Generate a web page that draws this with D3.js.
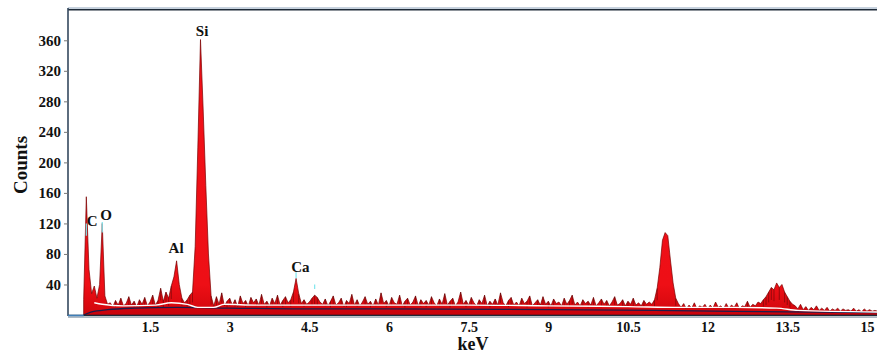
<!DOCTYPE html>
<html>
<head>
<meta charset="utf-8">
<script src="https://cdn.jsdelivr.net/npm/d3@7"></script>
<style>
  html, body { margin: 0; padding: 0; background: #fff; }
  svg { display: block; }
  text { font-family: "Liberation Serif", "Times New Roman", serif; font-weight: bold; fill: #111; }
</style>
</head>
<body>
<svg id="chart" width="877" height="355"></svg>
<script>
// ---- data ----
const channelStart = 0.25;   // keV of first channel
const channelWidth = 0.05;   // keV per channel
const counts = [
  20,155,60,28,38,22,40,120,25,14,
  16,11,19,13,22,12,15,24,13,18,11,20,14,23,12,17,26,13,19,
  35,18,30,22,38,50,71,40,22,16,
  20,26,
  30,90,220,361,270,170,80,25,12,
  24,14,29,12,18,22,13,20,11,25,15,19,12,23,16,21,13,27,14,18,12,22,15,26,13,19,24,16,
  20,30,48,28,15,
  20,14,
  17,22,26,23,17,
  14,21,12,18,25,13,16,22,11,19,
  15,27,13,20,12,17,24,14,18,12,
  21,13,29,15,19,12,23,16,14,26,
  12,18,22,13,17,25,12,20,15,19,
  13,24,16,12,21,14,28,13,18,22,
  12,17,30,14,19,13,23,16,12,20,
  15,26,12,18,14,21,13,29,16,12,
  19,23,13,17,12,22,15,18,25,12,
  16,20,13,24,14,18,12,21,15,17,
  12,22,14,19,26,13,17,12,20,15,
  18,13,23,12,16,21,14,19,12,17,
  24,13,15,20,12,18,14,22,13,16,
  12,19,14,17,
  14,20,35,62,98,108,104,72,42,22,15,
  10,15,8,13,9,16,8,12,10,14,
  8,13,9,17,10,12,8,15,9,13,
  10,16,8,12,11,18,10,14,12,17,
  15,20,24,30,36,33,42,36,40,30,24,18,14,
  12,8,14,7,11,6,10,7,12,6,
  9,6,10,5,8,6,9,5,8,6,
  7,5,9,5,7,4,8,5,7,5,6,5
];
// fitted background (white line)
const bgEnergy = [0.45, 0.6, 1.0, 1.6, 1.9, 2.2, 2.4, 2.7, 2.9, 3.5, 4.5, 6, 7.5, 9, 10.5, 11.5, 12.5, 13.3, 13.7, 15.2];
const bgCounts = [16, 14, 12, 13, 16, 14, 10, 10, 14, 13, 13, 13, 13, 12, 11, 10, 10, 9, 6, 4];
// continuum (dark line)
const contEnergy = [0.25, 0.4, 0.7, 1.2, 2, 3, 4.5, 6, 9, 11, 13.5, 15.2];
const contCounts = [0, 4, 7, 9, 10, 9, 8, 8, 7, 6, 4, 3];
// element labels
const elements = ["C", "O", "Al", "Si", "Ca"];
const elemEnergy = [0.41, 0.67, 1.99, 2.48, 4.33];
const elemCounts = [117, 125, 81, 366, 57];
const yTicks = [40, 80, 120, 160, 200, 240, 280, 320, 360];
const xTicks = [1.5, 3, 4.5, 6, 7.5, 9, 10.5, 12, 13.5, 15];

// ---- drawing ----
const svg = d3.select("#chart");
const x = d3.scaleLinear().domain([-0.045, 15.19]).range([68, 877]);
const y = d3.scaleLinear().domain([0, 401]).range([315, 9]);

const spectrum = counts.map((c, i) => ({ e: channelStart + channelWidth * i, c }));
const bg = bgEnergy.map((e, i) => ({ e, c: bgCounts[i] }));
const cont = contEnergy.map((e, i) => ({ e, c: contCounts[i] }));

const defs = svg.append("defs");
const grad = defs.append("linearGradient").attr("id", "redg")
  .attr("gradientUnits", "userSpaceOnUse").attr("x1", 0).attr("y1", 9).attr("x2", 0).attr("y2", 315);
grad.append("stop").attr("offset", "0%").attr("stop-color", "#f21018");
grad.append("stop").attr("offset", "90%").attr("stop-color", "#ee0f16");
grad.append("stop").attr("offset", "100%").attr("stop-color", "#d0060c");
defs.append("clipPath").attr("id", "plotclip").append("rect")
  .attr("x", 68).attr("y", 9).attr("width", 809).attr("height", 306);

const plot = svg.append("g").attr("clip-path", "url(#plotclip)");

const area = d3.area().x(d => x(d.e)).y0(y(0)).y1(d => y(d.c)).curve(d3.curveLinear);
plot.append("path").datum(spectrum)
  .attr("d", area)
  .attr("fill", "url(#redg)")
  .attr("stroke", "#7a0000")
  .attr("stroke-width", 0.7)
  .attr("stroke-linejoin", "round");

// darker lower band under the continuum
const contArea = d3.area().x(d => x(d.e)).y0(y(0)).y1(d => y(d.c)).curve(d3.curveMonotoneX);
plot.append("path").datum(cont).attr("d", contArea).attr("fill", "#c0000a").attr("opacity", 0.45);

// thin dark spikes of the noise channels
plot.append("g").selectAll("line")
  .data(spectrum.filter(d => d.c < 40 && d.e > 0.7 && d.c > 17))
  .join("line")
  .attr("x1", d => x(d.e)).attr("x2", d => x(d.e))
  .attr("y1", d => y(d.c * 0.55))
  .attr("y2", d => y(d.c))
  .attr("stroke", "#4a0606")
  .attr("stroke-width", 0.8)
  .attr("opacity", 0.6);

const line = d3.line().x(d => x(d.e)).y(d => y(d.c)).curve(d3.curveMonotoneX);
plot.append("path").datum(cont).attr("d", line)
  .attr("fill", "none").attr("stroke", "#1c1c4a").attr("stroke-width", 1.3);
plot.append("path").datum(bg).attr("d", line)
  .attr("fill", "none").attr("stroke", "#ffffff").attr("stroke-width", 1.4);

// small cyan peak markers
plot.append("g").selectAll("line")
  .data([0.3, 0.6, 4.25, 4.6])
  .join("line")
  .attr("x1", d => x(d)).attr("x2", d => x(d))
  .attr("y1", (d, i) => y([104, 108, 48, 34][i]))
  .attr("y2", (d, i) => y([120, 122, 56, 40][i]))
  .attr("stroke", "#7fe6ee").attr("stroke-width", 1.2);

// frame
svg.append("line").attr("x1", 68).attr("x2", 877).attr("y1", 8).attr("y2", 8)
  .attr("stroke", "#8ea4bc").attr("stroke-width", 1);
svg.append("line").attr("x1", 68).attr("x2", 877).attr("y1", 9.8).attr("y2", 9.8)
  .attr("stroke", "#1e2a38").attr("stroke-width", 1.6);
svg.append("line").attr("x1", 68).attr("x2", 68).attr("y1", 8).attr("y2", 316)
  .attr("stroke", "#34485e").attr("stroke-width", 1.6);
svg.append("line").attr("x1", 68).attr("x2", 877).attr("y1", 315.5).attr("y2", 315.5)
  .attr("stroke", "#1e2a38").attr("stroke-width", 1.6);
svg.append("line").attr("x1", 68).attr("x2", 877).attr("y1", 317.3).attr("y2", 317.3)
  .attr("stroke", "#9aa8b6").attr("stroke-width", 1);
svg.append("line").attr("x1", 68).attr("x2", x(channelStart)).attr("y1", 315.5).attr("y2", 315.5)
  .attr("stroke", "#3f7fb8").attr("stroke-width", 1.6);

// axes
const yAxis = svg.append("g").attr("transform", "translate(68,0)")
  .call(d3.axisLeft(y).tickValues(yTicks).tickFormat(d => String(d)).tickSize(4).tickPadding(3));
yAxis.select(".domain").remove();
yAxis.selectAll(".tick line").attr("stroke", "#777").attr("stroke-width", 1);
yAxis.selectAll("text").style("font-size", "15px").style("font-family", "Liberation Serif, serif").style("font-weight", "bold").attr("fill", "#111");

const xAxis = svg.append("g").attr("transform", "translate(0,315)")
  .call(d3.axisBottom(x).tickValues(xTicks).tickFormat(d => String(d)).tickSize(0).tickPadding(7));
xAxis.select(".domain").remove();
xAxis.selectAll("text").style("font-size", "14px").style("font-family", "Liberation Serif, serif").style("font-weight", "bold").attr("fill", "#111");

// axis titles
svg.append("text").attr("x", 473).attr("y", 350).attr("text-anchor", "middle")
  .style("font-size", "18px").text("keV");
svg.append("text").attr("transform", "translate(27,165) rotate(-90)").attr("text-anchor", "middle")
  .style("font-size", "19px").text("Counts");

// element labels
svg.append("g").selectAll("text")
  .data(elements)
  .join("text")
  .attr("x", (d, i) => x(elemEnergy[i]))
  .attr("y", (d, i) => y(elemCounts[i]))
  .attr("text-anchor", "middle")
  .style("font-size", "15px")
  .text(d => d);
</script>
</body>
</html>
